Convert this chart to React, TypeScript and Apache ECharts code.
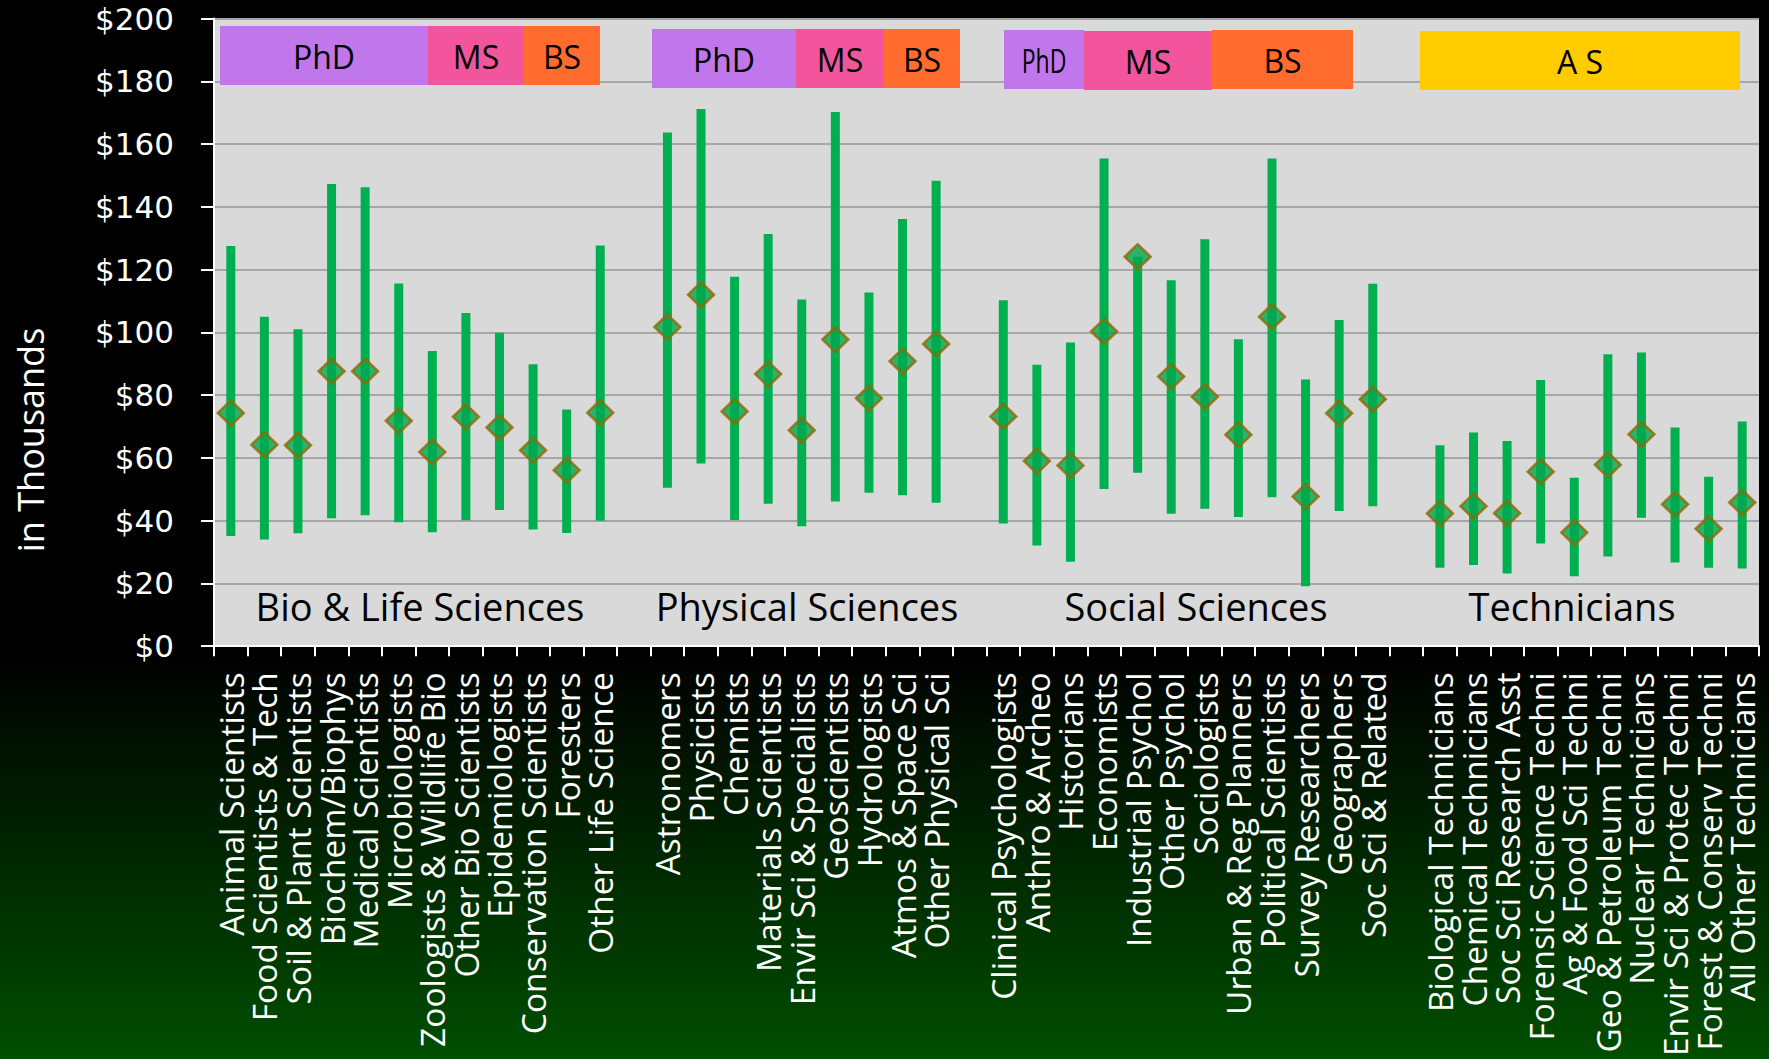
import React, { useEffect, useRef } from "react";
import * as echarts from "echarts";

const categories = [
  "Animal Scientists", "Food Scientists & Tech", "Soil & Plant Scientists", "Biochem/Biophys",
  "Medical Scientists", "Microbiologists", "Zoologists & Wildlife Bio", "Other Bio Scientists",
  "Epidemiologists", "Conservation Scientists", "Foresters", "Other Life Science",
  "",
  "Astronomers", "Physicists", "Chemists", "Materials Scientists", "Envir Sci & Specialists",
  "Geoscientists", "Hydrologists", "Atmos & Space Sci", "Other Physical Sci",
  " ",
  "Clinical Psychologists", "Anthro & Archeo", "Historians", "Economists", "Industrial Psychol",
  "Other Psychol", "Sociologists", "Urban & Reg Planners", "Political Scientists",
  "Survey Researchers", "Geographers", "Soc Sci & Related",
  "  ",
  "Biological Technicians", "Chemical Technicians", "Soc Sci Research Asst",
  "Forensic Science Techni", "Ag & Food Sci Techni", "Geo & Petroleum Techni",
  "Nuclear Technicians", "Envir Sci & Protec Techni", "Forest & Conserv Techni",
  "All Other Technicians",
];

const lows = [
  35.1, 34, 36, 40.8, 41.7, 39.5, 36.3, 40.1, 43.4, 37.2, 36.1, 40,
  null,
  50.5, 58.2, 40.2, 45.4, 38.2, 46.1, 48.9, 48.1, 45.7,
  null,
  39.1, 32.1, 26.9, 50.1, 55.3, 42.2, 43.8, 41.2, 47.5, 19.1, 43.1, 44.6,
  null,
  25.0, 25.9, 23.2, 32.7, 22.3, 28.6, 40.9, 26.7, 25.0, 24.8,
];

const medians = [
  74.3, 64.2, 64, 87.6, 87.6, 71.8, 61.9, 73.1, 69.7, 62.4, 56.1, 74.4,
  null,
  101.7, 112.0, 74.8, 86.7, 68.8, 97.7, 79.0, 90.8, 96.3,
  null,
  73.2, 59.0, 57.6, 100.3, 124.1, 85.9, 79.5, 67.4, 105.0, 47.7, 74.2, 78.7,
  null,
  42.3, 44.6, 42.4, 55.6, 36.2, 57.8, 67.5, 45.2, 37.4, 45.8,
];

const highs = [
  127.5, 105, 101, 147.3, 146.2, 115.6, 94.1, 106.2, 99.9, 89.8, 75.4, 127.7,
  null,
  163.7, 171.2, 117.7, 131.3, 110.5, 170.2, 112.7, 136.1, 148.3,
  null,
  110.2, 89.7, 96.8, 155.4, 124.1, 116.6, 129.7, 97.8, 155.4, 85.0, 103.9, 115.5,
  null,
  64.0, 68.1, 65.4, 84.8, 53.7, 93.0, 93.6, 69.7, 54.0, 71.6,
];

const groupTitles = ["Bio & Life Sciences", "Physical Sciences", "Social Sciences", "Technicians"];
const degreeLabels = ["PhD", "MS", "BS", "A S"];

const DEG_COLORS: Record<string, string> = {
  PhD: "#c077ec",
  MS: "#f2559b",
  BS: "#ff6c2e",
  "A S": "#ffcc00",
};

// header boxes: [label, x0, x1, y0, y1, textScaleX]
const headerBoxes: [string, number, number, number, number, number][] = [
  ["PhD", 220, 428, 26, 85, 1],
  ["MS", 428, 524, 26, 85, 1],
  ["BS", 524, 600, 26, 85, 1],
  ["PhD", 652, 796, 29, 88, 1],
  ["MS", 796, 884, 29, 88, 1],
  ["BS", 884, 960, 29, 88, 1],
  ["PhD", 1004, 1084, 30, 89, 0.72],
  ["MS", 1084, 1212, 31, 90, 1],
  ["BS", 1212, 1353, 30, 89, 1],
  ["A S", 1420, 1740, 31, 90, 1],
];

const groupTitleX = [420, 807, 1196, 1572];

export default function App() {
  const ref = useRef<HTMLDivElement>(null);
  useEffect(() => {
    document.body.style.margin = "0";
    document.body.style.overflow = "hidden";
    if (!ref.current) return;
    const chart = echarts.init(ref.current, undefined, { renderer: "svg" });

    const rangeData = categories
      .map((_, i) => (lows[i] == null ? null : [i, lows[i], highs[i]]))
      .filter((d) => d != null);
    const medData = categories.map((_, i) => (medians[i] == null ? "-" : medians[i]));

    const graphics: any[] = [];
    headerBoxes.forEach(([label, x0, x1, y0, y1, sx]) => {
      graphics.push({
        type: "rect",
        shape: { x: x0, y: y0, width: x1 - x0, height: y1 - y0 },
        style: { fill: DEG_COLORS[label] },
        z: 10,
      });
      graphics.push({
        type: "text",
        x: (x0 + x1) / 2,
        y: (y0 + y1) / 2 + 1,
        scaleX: sx,
        style: {
          text: label,
          fill: "#000",
          font: '32px "Open Sans"',
          align: "center",
          verticalAlign: "middle",
        },
        z: 11,
      });
    });
    groupTitles.forEach((t, i) => {
      graphics.push({
        type: "text",
        x: groupTitleX[i],
        y: 606,
        style: {
          text: t,
          fill: "#000",
          font: '38px "Open Sans"',
          align: "center",
          verticalAlign: "middle",
        },
        z: 11,
      });
    });
    graphics.push({
      type: "text",
      x: 30,
      y: 440,
      rotation: Math.PI / 2,
      style: {
        text: "in Thousands",
        fill: "#fff",
        font: '36px "Open Sans"',
        align: "center",
        verticalAlign: "middle",
      },
      z: 11,
    });

    chart.setOption({
      animation: false,
      backgroundColor: {
        type: "linear",
        x: 0,
        y: 0,
        x2: 0,
        y2: 1,
        colorStops: [
          { offset: 0, color: "#000000" },
          { offset: 0.615, color: "#000000" },
          { offset: 1, color: "#004e00" },
        ],
      },
      grid: {
        left: 214,
        right: 10,
        top: 17,
        bottom: 400,
        show: true,
        backgroundColor: "#d9d9d9",
        borderWidth: 0,
      },
      xAxis: {
        type: "category",
        data: categories,
        boundaryGap: true,
        axisLine: { show: true, lineStyle: { color: "#ffffff", width: 2 } },
        axisTick: { show: true, interval: 0, length: 10, lineStyle: { color: "#ffffff", width: 2 } },
        axisLabel: {
          interval: 0,
          rotate: 90,
          color: "#ffffff",
          fontFamily: "Open Sans",
          fontSize: 33.5,
          margin: 26,
        },
        splitLine: { show: false },
      },
      yAxis: {
        type: "value",
        min: 0,
        max: 200,
        interval: 20,
        axisLine: { show: true, lineStyle: { color: "#ffffff", width: 2 } },
        axisTick: { show: true, length: 13, lineStyle: { color: "#ffffff", width: 2 } },
        axisLabel: {
          color: "#ffffff",
          fontFamily: "DejaVu Sans",
          fontSize: 31,
          lineHeight: 31,
          margin: 40,
          padding: [6, 0, 0, 0],
          formatter: (v: number) => "$" + v,
        },
        splitLine: { show: true, lineStyle: { color: "#a6a6a6", width: 2 } },
      },
      series: [
        {
          type: "custom",
          data: rangeData,
          encode: { x: 0, y: [1, 2] },
          renderItem: (params: any, api: any) => {
            const x = api.value(0);
            const lo = api.coord([x, api.value(1)]);
            const hi = api.coord([x, api.value(2)]);
            return {
              type: "rect",
              shape: { x: lo[0] - 4.5, y: hi[1], width: 9, height: lo[1] - hi[1] },
              style: { fill: "#00b050" },
            };
          },
          z: 2,
        },
        {
          type: "scatter",
          data: medData,
          symbol: "diamond",
          symbolSize: [26, 25],
          itemStyle: { color: "#00a84f", borderColor: "#996600", borderWidth: 2.5 },
          z: 3,
        },
      ],
      graphic: graphics,
    });
    return () => chart.dispose();
  }, []);
  return <div ref={ref} style={{ width: 1769, height: 1059 }} />;
}
